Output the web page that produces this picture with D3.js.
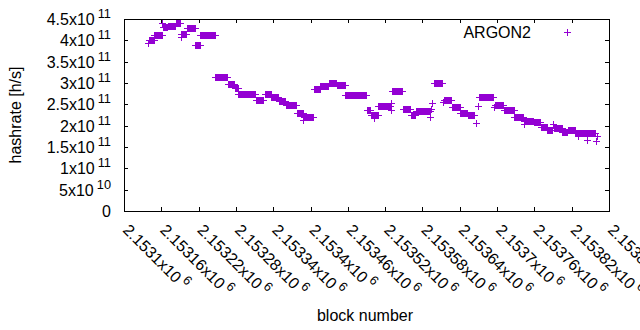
<!DOCTYPE html>
<html>
<head>
<meta charset="utf-8">
<script src="https://cdn.jsdelivr.net/npm/d3@7/dist/d3.min.js"></script>
<style>
body { margin: 0; background: #fff; }
text { font-family: "Liberation Sans", Arial, sans-serif; font-size: 16px; fill: #000; }
</style>
</head>
<body>
<div id="chart"></div>
<script>
// hashrate readings, grouped in runs of consecutive blocks that share one value
var runFirst = [2153139, 2153140, 2153149, 2153161, 2153162, 2153170, 2153183, 2153192, 2153191, 2153201,
  2153214, 2153215, 2153223, 2153247, 2153267, 2153278, 2153284, 2153312, 2153327, 2153337,
  2153349, 2153360, 2153378, 2153388, 2153389, 2153405, 2153416, 2153429, 2153442, 2153456,
  2153490, 2153497, 2153502, 2153509, 2153529, 2153530, 2153531, 2153548, 2153561, 2153569,
  2153592, 2153594, 2153595, 2153599, 2153613, 2153615, 2153627, 2153641, 2153653, 2153666,
  2153669, 2153671, 2153695, 2153697, 2153711, 2153728, 2153743, 2153743, 2153759, 2153770,
  2153781, 2153790, 2153791, 2153805, 2153814, 2153826, 2153830, 2153834, 2153845, 2153846,
  2153859, 2153861];
var runLast = [2153139, 2153148, 2153161, 2153161, 2153169, 2153182, 2153190, 2153192, 2153200, 2153214,
  2153214, 2153222, 2153246, 2153266, 2153277, 2153283, 2153311, 2153324, 2153336, 2153348,
  2153359, 2153377, 2153388, 2153388, 2153404, 2153415, 2153428, 2153441, 2153455, 2153489,
  2153496, 2153508, 2153502, 2153528, 2153529, 2153530, 2153547, 2153560, 2153568, 2153592,
  2153592, 2153594, 2153595, 2153611, 2153613, 2153626, 2153640, 2153652, 2153663, 2153666,
  2153669, 2153693, 2153695, 2153710, 2153727, 2153742, 2153743, 2153758, 2153769, 2153780,
  2153788, 2153790, 2153804, 2153812, 2153825, 2153833, 2153830, 2153845, 2153845, 2153857,
  2153859, 2153861];
var runRate = [3.93e11, 4.01e11, 4.12e11, 4.41e11, 4.31e11, 4.34e11, 4.41e11, 4.08e11, 4.15e11, 4.29e11,
  3.89e11, 3.90e11, 4.12e11, 3.15e11, 2.98e11, 2.88e11, 2.75e11, 2.61e11, 2.75e11, 2.67e11,
  2.58e11, 2.48e11, 2.30e11, 2.13e11, 2.20e11, 2.86e11, 2.94e11, 3.01e11, 2.95e11, 2.72e11,
  2.37e11, 2.25e11, 2.19e11, 2.45e11, 2.53e11, 2.37e11, 2.81e11, 2.40e11, 2.25e11, 2.34e11,
  2.20e11, 2.40e11, 2.53e11, 2.99e11, 2.55e11, 2.60e11, 2.44e11, 2.30e11, 2.24e11, 2.07e11,
  2.45e11, 2.68e11, 2.44e11, 2.48e11, 2.37e11, 2.20e11, 2.03e11, 2.12e11, 2.08e11, 1.98e11,
  1.90e11, 2.03e11, 1.95e11, 1.84e11, 1.91e11, 1.82e11, 1.76e11, 1.82e11, 1.66e11, 1.83e11,
  1.64e11, 1.76e11];

var xTicks = [2153100, 2153160, 2153220, 2153280, 2153340, 2153400, 2153460,
  2153520, 2153580, 2153640, 2153700, 2153760, 2153820, 2153880];
var yTicks = [0, 5e10, 1e11, 1.5e11, 2e11, 2.5e11, 3e11, 3.5e11, 4e11, 4.5e11];

var seriesName = "ARGON2",
    color = "#9400d3";

var svg = d3.select("#chart").append("svg")
  .attr("width", 640)
  .attr("height", 330);

var x = d3.scaleLinear().domain([2153100, 2153880]).range([124, 609]);
var y = d3.scaleLinear().domain([0, 4.5e11]).range([211, 19]);

// one point per block inside each run
var points = [];
runFirst.forEach(function(f, i) {
  for (var b = f; b <= runLast[i]; b++) points.push({block: b, rate: runRate[i]});
});

// ticks on all four sides, pointing inward
function ticks(axis, tr) {
  var g = svg.append("g").attr("transform", tr).call(axis.tickSize(-4).tickFormat(""));
  g.select(".domain").remove();
  g.selectAll("line").attr("stroke", "#000").attr("shape-rendering", "crispEdges");
}
ticks(d3.axisBottom(x).tickValues(xTicks), "translate(0,211)");
ticks(d3.axisTop(x).tickValues(xTicks), "translate(0,19)");
ticks(d3.axisLeft(y).tickValues(yTicks), "translate(124,0)");
ticks(d3.axisRight(y).tickValues(yTicks), "translate(609,0)");

svg.append("rect")
  .attr("x", 124.5).attr("y", 19.5)
  .attr("width", 485).attr("height", 192)
  .attr("fill", "none").attr("stroke", "#000")
  .attr("shape-rendering", "crispEdges");

function sci(v) {
  var e = Math.floor(Math.log10(v) + 1e-9);
  return [String(+(v / Math.pow(10, e)).toFixed(6)), String(e)];
}

// y tick labels like 4.5x10^11
svg.append("g").selectAll("text").data(yTicks).join("text")
  .attr("x", 111)
  .attr("y", function(d) { return y(d) + 0.5; })
  .attr("dy", "0.35em")
  .attr("text-anchor", "end")
  .each(function(d) {
    var t = d3.select(this);
    if (d === 0) { t.text("0"); return; }
    var p = sci(d);
    t.append("tspan").text(p[0] + "x10");
    t.append("tspan").attr("dx", 3).attr("dy", -7).style("font-size", "12.8px").text(p[1]);
  });

// x tick labels, rotated
svg.append("g").selectAll("text").data(xTicks).join("text")
  .attr("transform", function(d) { return "translate(" + (x(d) - 2) + ",231) rotate(45)"; })
  .each(function(d) {
    var t = d3.select(this);
    t.append("tspan").text(+(d / 1e6).toFixed(6) + "x10");
    t.append("tspan").attr("dx", 3).attr("dy", -7).style("font-size", "12.8px").text("6");
  });

svg.append("text")
  .attr("transform", "translate(21,115) rotate(-90)")
  .attr("text-anchor", "middle")
  .text("hashrate [h/s]");

svg.append("text")
  .attr("x", 365).attr("y", 321)
  .attr("text-anchor", "middle")
  .text("block number");

var plus = "M-3.5,0H3.5M0,-3.5V3.5";

svg.append("g").selectAll("path").data(points).join("path")
  .attr("transform", function(d) {
    return "translate(" + (Math.round(x(d.block)) + 0.5) + "," + (Math.round(y(d.rate)) + 0.5) + ")";
  })
  .attr("d", plus)
  .attr("fill", "none")
  .attr("stroke", color)
  .attr("stroke-width", 1)
  .attr("shape-rendering", "crispEdges");

// legend
svg.append("text")
  .attr("x", 531).attr("y", 37.5)
  .attr("text-anchor", "end")
  .text(seriesName);
svg.append("path")
  .attr("transform", "translate(567.5,32.5)")
  .attr("d", plus)
  .attr("fill", "none")
  .attr("stroke", color)
  .attr("shape-rendering", "crispEdges");
</script>
</body>
</html>
